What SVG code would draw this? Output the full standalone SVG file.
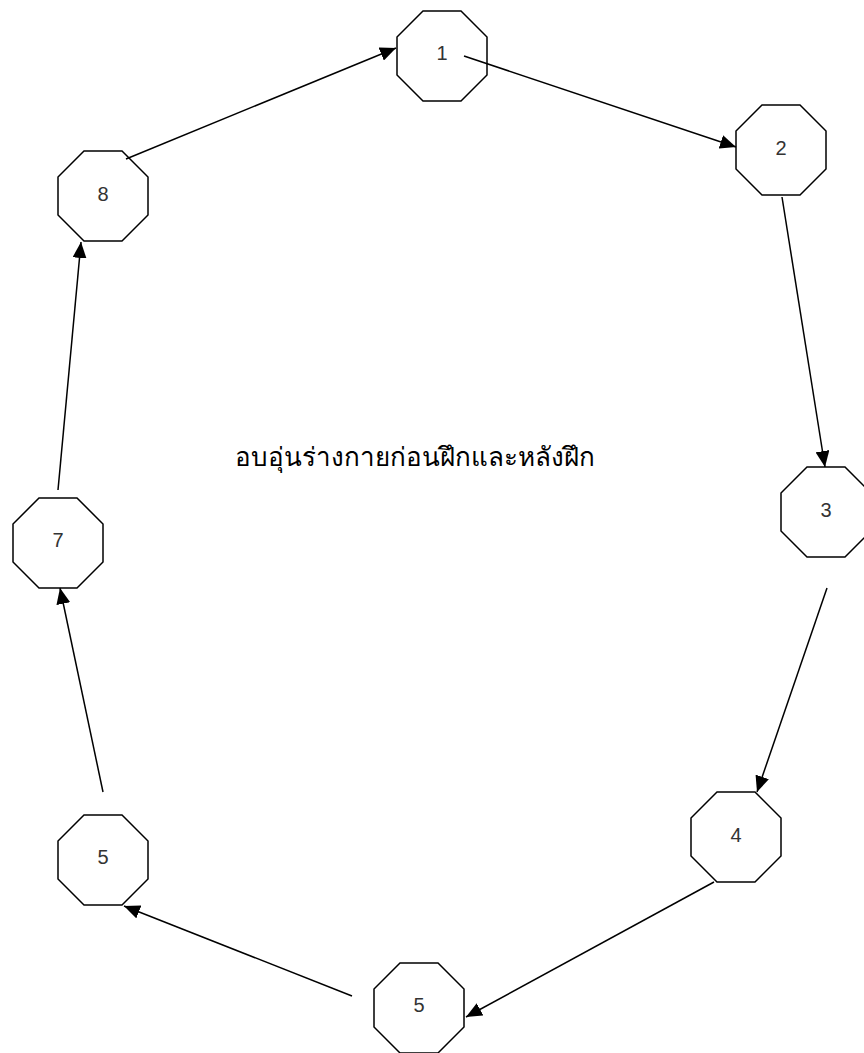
<svg xmlns="http://www.w3.org/2000/svg" width="864" height="1053" viewBox="0 0 864 1053">
<style>
.oct{fill:#fff;stroke:#000;stroke-width:1.5;}
.num{font-family:"Liberation Sans",Arial,sans-serif;font-size:20px;fill:#333;text-anchor:middle;}
.con line{stroke:#000;stroke-width:1.5;marker-end:url(#ah);}
.title{font-family:"Liberation Serif","DejaVu Serif",serif;font-size:26px;fill:#000;}
</style>
<defs>
<marker id="ah" markerUnits="userSpaceOnUse" markerWidth="18" markerHeight="14" refX="16" refY="7" orient="auto">
<path d="M0,0 L16,7 L0,14 Z" fill="#000"/>
</marker>
</defs>
<rect width="864" height="1053" fill="#fff"/>
<g id="n1"><polygon class="oct" points="423,11 461,11 487,37 487,75 461,101 423,101 397,75 397,37"/><text class="num" x="442" y="60">1</text></g>
<g id="n2"><polygon class="oct" points="762,105 800,105 826,131 826,169 800,195 762,195 736,169 736,131"/><text class="num" x="781" y="155">2</text></g>
<g id="n3"><polygon class="oct" points="807,467 845,467 871,493 871,531 845,557 807,557 781,531 781,493"/><text class="num" x="826" y="517">3</text></g>
<g id="n4"><polygon class="oct" points="717,792 755,792 781,818 781,856 755,882 717,882 691,856 691,818"/><text class="num" x="736" y="842">4</text></g>
<g id="n5b"><polygon class="oct" points="400,963 438,963 464,989 464,1027 438,1053 400,1053 374,1027 374,989"/><text class="num" x="419" y="1012">5</text></g>
<g id="n5l"><polygon class="oct" points="84,815 122,815 148,841 148,879 122,905 84,905 58,879 58,841"/><text class="num" x="103" y="864">5</text></g>
<g id="n7"><polygon class="oct" points="39,498 77,498 103,524 103,562 77,588 39,588 13,562 13,524"/><text class="num" x="58" y="547">7</text></g>
<g id="n8"><polygon class="oct" points="84,151 122,151 148,177 148,215 122,241 84,241 58,215 58,177"/><text class="num" x="103" y="201">8</text></g>
<g id="connectors" class="con">
<line x1="126" y1="159" x2="396" y2="48"/>
<line x1="464" y1="56" x2="736" y2="147"/>
<line x1="782" y1="197" x2="825" y2="467"/>
<line x1="827" y1="588" x2="757" y2="792"/>
<line x1="714" y1="882" x2="466" y2="1017"/>
<line x1="352" y1="996" x2="124" y2="906"/>
<line x1="103" y1="792" x2="60" y2="588"/>
<line x1="58" y1="490" x2="81" y2="242"/>
</g>
<text class="title" x="235" y="466">อบอุ่นร่างกายก่อนฝึกและหลังฝึก</text>
</svg>
